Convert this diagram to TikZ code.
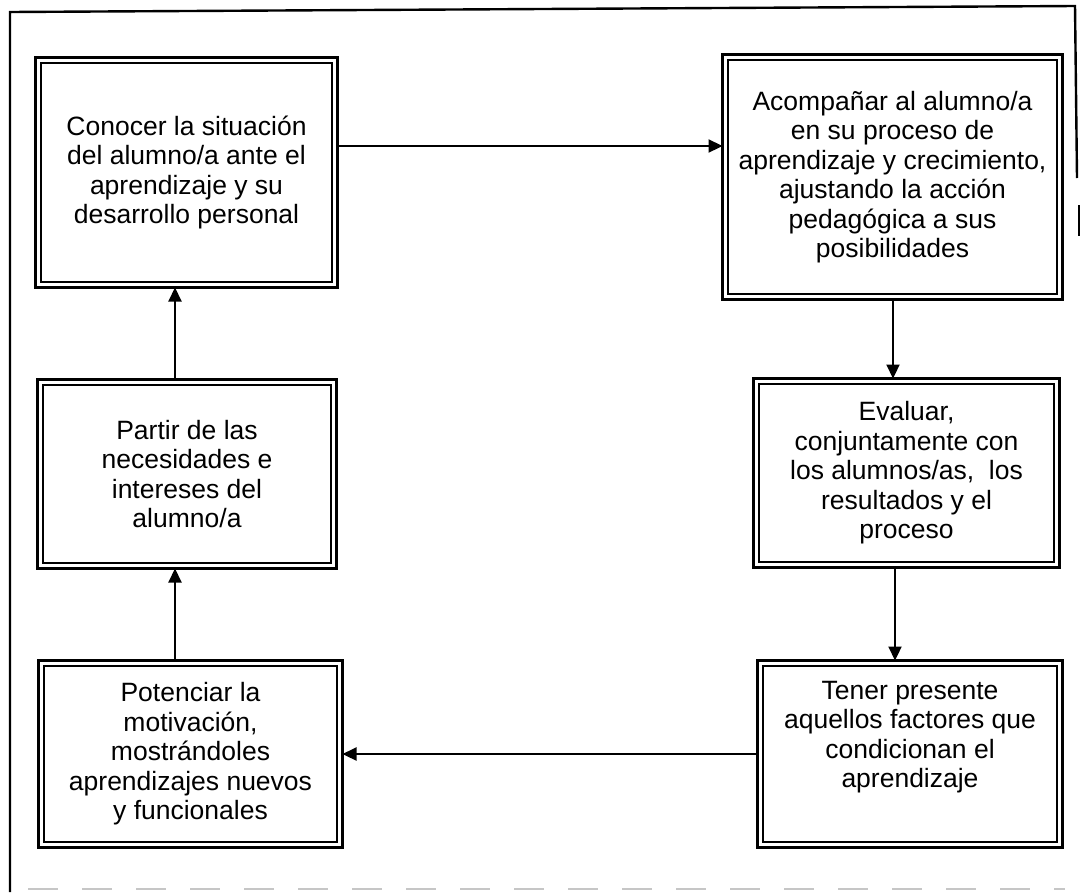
\documentclass[tikz,border=0pt]{standalone}
\usepackage{fontspec}
\setmainfont{Liberation Sans}
\usetikzlibrary{arrows.meta}
\begin{document}
\begin{tikzpicture}[x=1pt,y=-1pt,
  every node/.style={inner sep=0pt,outer sep=0pt},
  txt/.style={align=center,font=\fontsize{26.5}{29.5}\selectfont},
  stepbox/.style={txt,draw=none},
  outerline/.style={line width=2.4pt},
  innerline/.style={line width=1.6pt},
  arr/.style={line width=2.2pt,-{Triangle[length=14pt,width=13pt]}},
  frame/.style={line width=2.4pt},
  faint/.style={gray!45,line width=1.5pt,dash pattern=on 30pt off 24pt}]
\useasboundingbox (0,0) rectangle (1081,892);

% page frame
\draw[frame] (10,892) -- (10,12) -- (1075,6) -- (1077,178);
\draw[frame] (1079,205) -- (1079,236);
\draw[faint] (28,889) -- (1065,889);

% boxes
\node[stepbox,minimum width=302pt,minimum height=230pt] (A) at (186.5,172.5)
  {Conocer la situación\\del alumno/a ante el\\aprendizaje y su\\desarrollo personal};
\node[stepbox,minimum width=340pt,minimum height=245pt] (C) at (892.5,177)
  {Acompañar al alumno/a\\en su proceso de\\aprendizaje y crecimiento,\\ajustando la acción\\pedagógica a sus\\posibilidades};
\node[stepbox,minimum width=299pt,minimum height=189pt] (B) at (187,474)
  {Partir de las\\necesidades e\\intereses del\\alumno/a};
\node[stepbox,minimum width=306pt,minimum height=189pt] (D) at (906.5,473)
  {Evaluar,\\conjuntamente con\\los alumnos/as,\ \ los\\resultados y el\\proceso};
\node[stepbox,minimum width=305pt,minimum height=187pt] (E) at (910,754) {};
\node[txt] (Etext) at ([yshift=17pt]E.center)
  {Tener presente\\aquellos factores que\\condicionan el\\aprendizaje};
\node[stepbox,minimum width=304pt,minimum height=187pt] (F) at (190.5,754)
  {Potenciar la\\motivación,\\mostrándoles\\aprendizajes nuevos\\y funcionales};

% double borders
\foreach \n in {A,B,C,D,E,F}{
  \draw[outerline] (\n.north west) rectangle (\n.south east);
  \draw[innerline] ([shift={(5.5pt,-5.5pt)}]\n.north west) rectangle ([shift={(-5.5pt,5.5pt)}]\n.south east);
}

% connectors
\draw[arr] ([yshift=26.5pt]A.east) -- ([yshift=31pt]C.west);
\draw[arr] ([xshift=0.5pt]C.south) -- ([xshift=-13.5pt]D.north);
\draw[arr] ([xshift=-11.5pt]D.south) -- ([xshift=-15pt]E.north);
\draw[arr] (E.west) -- (F.east);
\draw[arr] ([xshift=-15.5pt]F.north) -- ([xshift=-12pt]B.south);
\draw[arr] ([xshift=-12pt]B.north) -- ([xshift=-11.5pt]A.south);
\end{tikzpicture}
\end{document}
